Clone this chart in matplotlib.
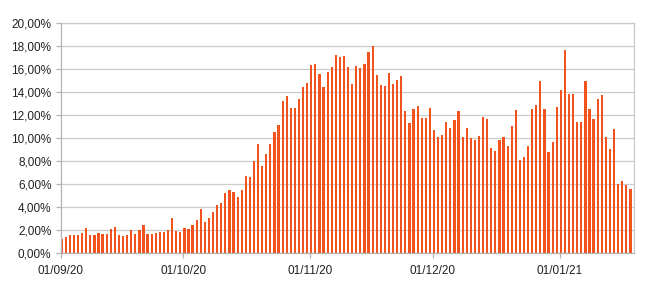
import numpy as np
import pandas as pd
import matplotlib
matplotlib.use('Agg')
import matplotlib.pyplot as plt
import matplotlib.dates as mdates
from matplotlib.ticker import FuncFormatter

#%% data (percent, one value per day from 01/09/20)
sep = [1.22, 1.33, 1.50, 1.54, 1.57, 1.71, 2.12, 1.50, 1.50, 1.71,
       1.65, 1.65, 2.03, 2.26, 1.57, 1.48, 1.57, 1.94, 1.65, 1.94,
       2.43, 1.62, 1.62, 1.68, 1.80, 1.80, 2.00, 2.99, 1.88, 1.83]
oct_ = [2.15, 2.06, 2.38, 2.81, 3.77, 2.70, 3.01, 3.50, 4.14, 4.32,
        5.19, 5.42, 5.25, 4.84, 5.42, 6.67, 6.58, 8.00, 9.45, 7.57,
        8.55, 9.45, 10.52, 11.07, 13.19, 13.65, 12.61, 12.58, 13.33, 14.43,
        14.72]
nov = [16.29, 16.43, 15.51, 14.43, 15.74, 16.14, 17.19, 17.04, 17.10, 16.12,
       14.64, 16.20, 16.06, 16.38, 17.42, 17.97, 15.45, 14.61, 14.46, 15.65,
       14.67, 15.01, 15.39, 12.35, 11.25, 12.46, 12.72, 11.68, 11.68, 12.55]
dec = [10.67, 10.06, 10.26, 11.33, 10.84, 11.57, 12.35, 10.03, 10.81, 9.97,
       9.83, 10.14, 11.77, 11.62, 9.13, 8.84, 9.83, 10.03, 9.28, 11.01,
       12.38, 8.03, 8.29, 9.30, 12.49, 12.81, 14.96, 12.52, 8.72, 9.59,
       12.64]
jan = [14.12, 17.62, 13.80, 13.83, 11.36, 11.36, 14.90, 12.52, 11.62, 13.33,
       13.68, 10.09, 9.01, 10.78, 5.94, 6.26, 5.88, 5.57]

values = np.array(sep + oct_ + nov + dec + jan)
start = pd.Timestamp('2020-09-01')
days = pd.date_range(start, periods=len(values), freq='D')

tick_dates = pd.to_datetime(['2020-09-01', '2020-10-01', '2020-11-01',
                             '2020-12-01', '2021-01-01'])
tick_labels = ['01/09/20', '01/10/20', '01/11/20', '01/12/20', '01/01/21']

#%% plot
plt.rcParams['font.family'] = ['Liberation Sans', 'DejaVu Sans']
fig = plt.figure(figsize=(6.5, 2.91), dpi=100)
ax = fig.add_axes([0.0931, 0.1316, 0.8818, 0.7904])

ax.bar(days + pd.Timedelta(hours=7), values, width=0.55,
       color='#f2521c', edgecolor='none', zorder=2)

ax.set_ylim(0, 20)
ax.set_yticks(np.arange(0, 20.1, 2))
ax.yaxis.set_major_formatter(FuncFormatter(lambda v, p: ('%.2f%%' % v).replace('.', ',')))
ax.set_xlim(start, start + pd.Timedelta(days=140.1))
ax.set_xticks(tick_dates)
ax.set_xticklabels(tick_labels)

ax.grid(axis='y', color='#cccccc', linewidth=0.9, zorder=0)
for s in ax.spines.values():
    s.set_color('#c8c8c8')
    s.set_linewidth(0.9)
ax.spines['left'].set_color('#b3b3b3')
ax.spines['bottom'].set_color('#b3b3b3')
ax.tick_params(axis='both', colors='#b3b3b3', labelcolor='#222222',
               labelsize=8.5, length=3.5, width=0.9)
ax.tick_params(axis='y', pad=3)
ax.tick_params(axis='x', pad=5)

fig.savefig('out.png', dpi=100)
